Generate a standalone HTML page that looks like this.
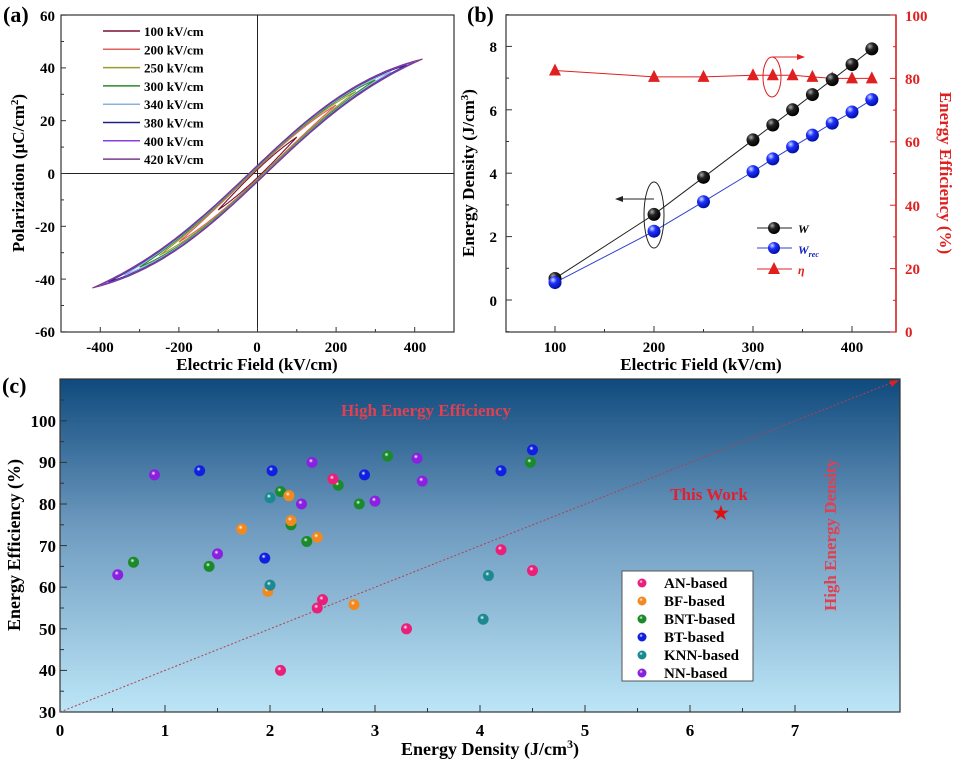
<!DOCTYPE html>
<html><head><meta charset="utf-8"><style>
body{margin:0;background:#fff}
svg{display:block}
text{font-family:"Liberation Serif",serif;font-weight:bold}
</style></head><body>
<svg id="s" width="953" height="764" viewBox="0 0 953 764" xmlns="http://www.w3.org/2000/svg">
<defs>
<linearGradient id="bg" x1="0" y1="0" x2="0" y2="1">
<stop offset="0" stop-color="#0f4a7d"/><stop offset="0.45" stop-color="#6f9bc0"/><stop offset="1" stop-color="#bce6f7"/>
</linearGradient>
</defs>
<!-- Panel a -->
<text x="3" y="22" font-size="22">(a)</text>
<rect x="61" y="15" width="393" height="317" fill="none" stroke="#333" stroke-width="1.2"/>
<line x1="257.5" y1="15" x2="257.5" y2="332" stroke="#222" stroke-width="1"/>
<line x1="61" y1="173.5" x2="454" y2="173.5" stroke="#222" stroke-width="1"/>
<g id="aticks" stroke="#333" stroke-width="1"></g>
<g font-size="15" text-anchor="end">
<text x="55" y="21">60</text><text x="55" y="73">40</text><text x="55" y="126">20</text><text x="55" y="179">0</text><text x="55" y="232">-20</text><text x="55" y="285">-40</text><text x="55" y="337">-60</text>
</g>
<g font-size="15" text-anchor="middle">
<text x="100" y="352">-400</text><text x="179" y="352">-200</text><text x="257" y="352">0</text><text x="336" y="352">200</text><text x="415" y="352">400</text>
</g>
<text x="257" y="370" font-size="17" text-anchor="middle">Electric Field (kV/cm)</text>
<text transform="translate(24,173) rotate(-90)" font-size="17" text-anchor="middle">Polarization (μC/cm<tspan dy="-6" font-size="11">2</tspan><tspan dy="6">)</tspan></text>
<g id="loops" fill="none" stroke-width="1.1"></g>
<g id="alegend" font-size="13"></g>

<!-- Panel b -->
<text x="467" y="22" font-size="22">(b)</text>
<rect x="506" y="15" width="390" height="317" fill="none" stroke="#333" stroke-width="1.2"/>
<line x1="896" y1="15" x2="896" y2="332" stroke="#e02020" stroke-width="1.5"/>
<g id="bticks" stroke-width="1"></g>
<g font-size="15" text-anchor="end">
<text x="497" y="52">8</text><text x="497" y="116">6</text><text x="497" y="179">4</text><text x="497" y="242">2</text><text x="497" y="306">0</text>
</g>
<g font-size="15" fill="#e02020">
<text x="905" y="21">100</text><text x="905" y="84">80</text><text x="905" y="147">60</text><text x="905" y="211">40</text><text x="905" y="274">20</text><text x="905" y="337">0</text>
</g>
<g font-size="15" text-anchor="middle">
<text x="555" y="352">100</text><text x="654" y="352">200</text><text x="753" y="352">300</text><text x="852" y="352">400</text>
</g>
<text x="701" y="370" font-size="17" text-anchor="middle">Electric Field (kV/cm)</text>
<text transform="translate(474,173) rotate(-90)" font-size="17" text-anchor="middle">Energy Density (J/cm<tspan dy="-6" font-size="11">3</tspan><tspan dy="6">)</tspan></text>
<text transform="translate(940,173) rotate(90)" font-size="17" text-anchor="middle" fill="#e02020">Energy Efficiency (%)</text>
<g id="bdata"></g>
<ellipse cx="654" cy="215" rx="10" ry="33" fill="none" stroke="#222" stroke-width="1"/>
<line x1="654" y1="199" x2="620" y2="199" stroke="#222" stroke-width="1"/>
<polygon points="615,199 623,196 623,202" fill="#222"/>
<ellipse cx="772" cy="77" rx="9" ry="20" fill="none" stroke="#e02020" stroke-width="1"/>
<line x1="772" y1="57" x2="800" y2="57" stroke="#e02020" stroke-width="1"/>
<polygon points="805,57 797,54 797,60" fill="#e02020"/>
<g id="blegend"></g>
<text x="798" y="233" font-size="12" font-style="italic">W</text>
<text x="798" y="254" font-size="12" font-style="italic" fill="#1020c0">W<tspan font-size="8" dy="3">rec</tspan></text>
<text x="798" y="274" font-size="12" font-style="italic" fill="#e02020">η</text>

<!-- Panel c -->
<text x="2" y="393" font-size="22">(c)</text>
<rect x="60" y="379" width="840" height="333" fill="url(#bg)" stroke="#333" stroke-width="1.2"/>
<g id="cticks" stroke="#333" stroke-width="1"></g>
<g font-size="17" text-anchor="end">
<text x="56" y="427">100</text><text x="56" y="468">90</text><text x="56" y="510">80</text><text x="56" y="552">70</text><text x="56" y="593">60</text><text x="56" y="635">50</text><text x="56" y="676">40</text><text x="56" y="718">30</text>
</g>
<g font-size="17" text-anchor="middle">
<text x="60" y="736">0</text><text x="165" y="736">1</text><text x="270" y="736">2</text><text x="375" y="736">3</text><text x="480" y="736">4</text><text x="585" y="736">5</text><text x="690" y="736">6</text><text x="795" y="736">7</text>
</g>
<text x="490" y="755" font-size="18" text-anchor="middle">Energy Density (J/cm<tspan dy="-7" font-size="12">3</tspan><tspan dy="7">)</tspan></text>
<text transform="translate(20,545) rotate(-90)" font-size="18" text-anchor="middle">Energy Efficiency (%)</text>
<line x1="60" y1="712" x2="896" y2="381" stroke="#b04050" stroke-width="1" stroke-dasharray="2,2"/>
<polygon points="899,380 889,381 892,387" fill="#e02020"/>
<text x="426" y="416" font-size="17" fill="#e04050" text-anchor="middle">High Energy Efficiency</text>
<text x="709" y="500" font-size="17" fill="#e02030" text-anchor="middle">This Work</text>
<text x="721" y="519" font-size="18" fill="#e01010" text-anchor="middle">★</text>
<text transform="translate(836,535) rotate(-90)" font-size="17" fill="#e04050" text-anchor="middle">High Energy Density</text>
<g id="cdots"></g>
<rect x="622" y="571" width="131" height="110" fill="#fff" stroke="#555" stroke-width="1"/>
<g font-size="15">
<text x="664" y="588">AN-based</text><text x="664" y="606">BF-based</text><text x="664" y="624">BNT-based</text><text x="664" y="642">BT-based</text><text x="664" y="660">KNN-based</text><text x="664" y="678">NN-based</text>
</g>
<g id="cleg"></g>
</svg>
<script>
const NS="http://www.w3.org/2000/svg",$=id=>document.getElementById(id);
function el(p,t,a){const e=document.createElementNS(NS,t);for(const k in a)e.setAttribute(k,a[k]);p.appendChild(e);return e;}
const ax=E=>257.5+E*0.393, ay=P=>173.5-P*2.64;
const at=$("aticks");
for(let E=-500;E<=500;E+=100){const x=ax(E),l=E%200==0?5:3;el(at,"line",{x1:x,y1:332,x2:x,y2:332-l});}
for(let P=-60;P<=60;P+=10){const y=ay(P),l=P%20==0?5:3;el(at,"line",{x1:61,y1:y,x2:61+l,y2:y});}
const loops=[[100,"#7a1030"],[200,"#e0605a"],[250,"#9a9a30"],[300,"#2a8a2a"],[340,"#8ab0e0"],[380,"#202080"],[400,"#8a40e0"],[420,"#7a3a8a"]];
const Ps=54.4,E0=385;
loops.forEach(([Em,c])=>{
 let d="";const dd=1+Em/200;
 for(let i=0;i<=80;i++){const E=Em-2*Em*i/80;const P=Ps*Math.tanh(E/E0)+dd*(1-(E/Em)**2);d+=(i?"L":"M")+ax(E).toFixed(1)+","+ay(P).toFixed(1);}
 for(let i=0;i<=80;i++){const E=-Em+2*Em*i/80;const P=Ps*Math.tanh(E/E0)-dd*(1-(E/Em)**2);d+="L"+ax(E).toFixed(1)+","+ay(P).toFixed(1);}
 el($("loops"),"path",{d,stroke:c});
});
loops.forEach(([Em,c],i)=>{const y=31+i*18.3;el($("alegend"),"line",{x1:103,y1:y,x2:140,y2:y,stroke:c,"stroke-width":1.5});const t=el($("alegend"),"text",{x:144,y:y+5});t.textContent=Em+" kV/cm";});
const bx=E=>555+(E-100)*0.99, by=v=>300-v*31.7, br=p=>332-p*3.17;
const bt=$("bticks");
for(let E=100;E<=400;E+=50){el(bt,"line",{x1:bx(E),y1:332,x2:bx(E),y2:E%100==0?326:329,stroke:"#333"});}
for(let v=-1;v<=9;v++){el(bt,"line",{x1:506,y1:by(v),x2:v%2==0?512:509,y2:by(v),stroke:"#333"});}
for(let p=0;p<=100;p+=10){el(bt,"line",{x1:896,y1:br(p),x2:p%20==0?890:893,y2:br(p),stroke:"#e02020"});}
const Es=[100,200,250,300,320,340,360,380,400,420];
const W=[0.68,2.7,3.87,5.05,5.52,6.0,6.48,6.95,7.43,7.92];
const Wr=[0.55,2.17,3.1,4.05,4.45,4.83,5.2,5.58,5.93,6.32];
const Et=[82.5,80.5,80.5,81,81,81,80.5,80,80,80];
const bd=$("bdata");
el(bd,"defs",{}).innerHTML='<radialGradient id="gk" cx="0.35" cy="0.3" r="0.7"><stop offset="0" stop-color="#aaa"/><stop offset="0.4" stop-color="#222"/><stop offset="1" stop-color="#000"/></radialGradient><radialGradient id="gb" cx="0.35" cy="0.3" r="0.7"><stop offset="0" stop-color="#cfe0ff"/><stop offset="0.4" stop-color="#2030ff"/><stop offset="1" stop-color="#0010a0"/></radialGradient>';
el(bd,"polyline",{points:Es.map((E,i)=>bx(E)+","+br(Et[i])).join(" "),fill:"none",stroke:"#e02020","stroke-width":1});
el(bd,"polyline",{points:Es.map((E,i)=>bx(E)+","+by(W[i])).join(" "),fill:"none",stroke:"#222","stroke-width":1});
el(bd,"polyline",{points:Es.map((E,i)=>bx(E)+","+by(Wr[i])).join(" "),fill:"none",stroke:"#3040d0","stroke-width":1});
Es.forEach((E,i)=>{const x=bx(E),y=br(Et[i]);el(bd,"polygon",{points:`${x-6},${y+5} ${x+6},${y+5} ${x},${y-7}`,fill:"#e02020"});
 el(bd,"circle",{cx:x,cy:by(W[i]),r:6.5,fill:"url(#gk)"});el(bd,"circle",{cx:x,cy:by(Wr[i]),r:6.5,fill:"url(#gb)"});});
const bl=$("blegend");
[[228,"#222","url(#gk)"],[248,"#3040d0","url(#gb)"]].forEach(([y,s,f])=>{el(bl,"line",{x1:757,y1:y,x2:792,y2:y,stroke:s});el(bl,"circle",{cx:774,cy:y,r:6,fill:f});});
el(bl,"line",{x1:757,y1:269,x2:792,y2:269,stroke:"#e02020"});el(bl,"polygon",{points:"768,274 780,274 774,262",fill:"#e02020"});
const cx=v=>60+v*105, cy=v=>712-(v-30)*4.16;
const ct=$("cticks");
for(let v=0.5;v<8;v+=0.5){el(ct,"line",{x1:cx(v),y1:712,x2:cx(v),y2:v%1==0?705:708});}
for(let v=30;v<=110;v+=5){el(ct,"line",{x1:60,y1:cy(v),x2:v%10==0?67:64,y2:cy(v)});}
const cols={AN:"#e8207a",BF:"#f08a20",BNT:"#1a8a2a",BT:"#1020e0",KNN:"#1a8a90",NN:"#8a20e0"};
let gd="";for(const k in cols)gd+=`<radialGradient id="c${k}" cx="0.4" cy="0.35" r="0.65"><stop offset="0" stop-color="#fff"/><stop offset="0.3" stop-color="${cols[k]}"/><stop offset="1" stop-color="${cols[k]}"/></radialGradient>`;
el($("cdots"),"defs",{}).innerHTML=gd;
const pts={NN:[[0.55,63],[0.9,87],[1.5,68],[2.3,80],[2.4,90],[3.0,80.7],[3.4,91],[3.45,85.5]],
BT:[[1.33,88],[1.95,67],[2.02,88],[2.9,87],[4.2,88],[4.5,93]],
BNT:[[0.7,66],[1.42,65],[2.1,83],[2.2,75],[2.35,71],[2.65,84.5],[2.85,80],[3.12,91.5],[4.48,90]],
BF:[[1.73,74],[1.98,59],[2.18,82],[2.2,76],[2.45,72],[2.8,55.8]],
KNN:[[2.0,81.5],[2.0,60.5],[4.08,62.8],[4.03,52.3]],
AN:[[2.1,40],[2.45,55],[2.5,57],[2.6,86],[3.3,50],[4.2,69],[4.5,64]]};
for(const k in pts)pts[k].forEach(([x,y])=>el($("cdots"),"circle",{cx:cx(x),cy:cy(y),r:5.5,fill:`url(#c${k})`}));
Object.keys(cols).forEach((k,i)=>el($("cleg"),"circle",{cx:642,cy:583+i*18,r:4.5,fill:`url(#c${k})`}));
</script>
</body></html>
